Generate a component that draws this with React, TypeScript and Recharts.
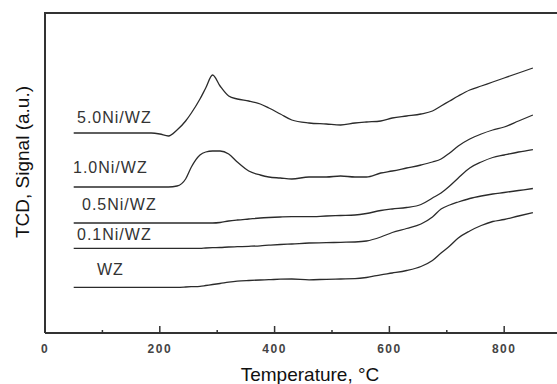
import React from 'react';
import { LineChart, Line, XAxis, YAxis } from 'recharts';

// Temperature grid (°C) shared by all TPR profiles
const temps = [
  50, 100, 150, 185, 200, 215, 230, 245, 255, 270, 280, 292, 305, 320, 335, 355, 375, 390, 410, 430,
  460, 490, 515, 540, 560, 585, 605, 630, 655, 675, 690, 705, 720, 740, 760, 780, 800, 825, 850,
];

// TCD signal, arbitrary units (each profile offset vertically)
const ni50 = [
  200, 200, 200, 200, 199, 197, 203, 212, 220, 234, 245, 258, 247, 237, 234, 232, 229, 225, 219, 213,
  210, 209, 208, 210, 211, 212, 215, 217, 219, 222, 227, 232, 237, 243, 247, 251, 255, 260, 265,
];
const ni10 = [
  146, 146, 146, 146, 146, 146, 147, 154, 166, 178, 181, 182, 182, 179, 171, 162, 158, 156, 155, 154,
  156, 156, 157, 156, 156, 160, 162, 165, 168, 171, 174, 180, 187, 194, 199, 203, 206, 212, 218,
];
const ni05 = [
  110, 110, 110, 110, 110, 110, 110, 110, 110, 110, 110, 110, 110.5, 112, 113, 114, 115, 115.5, 116, 116.3,
  116.3, 117, 117.5, 118, 119.5, 122.5, 124, 125.5, 128.5, 135, 140, 147, 155, 165, 171, 175.5, 178, 181, 183.5,
];
const ni01 = [
  84.7, 84.7, 84.7, 84.7, 84.7, 84.7, 84.7, 84.7, 84.7, 84.7, 85, 85.3, 85.5, 86, 86.3, 86.7, 87.2, 87.8, 88.5, 89,
  90, 90.3, 90.7, 91, 92, 96, 100.5, 104.5, 109, 116, 124, 128, 131, 134.5, 137, 139, 140.5, 142.5, 144.5,
];
const wz = [
  45.7, 45.7, 45.7, 45.7, 45.7, 45.7, 45.7, 46, 46.3, 46.7, 47.5, 48.5, 49.5, 50.8, 51.8, 52.5, 53, 53.3, 53.8, 54,
  53.2, 53.7, 54, 54.3, 55.5, 58.2, 60, 62.5, 66.5, 72.5, 80, 87, 95, 102, 107.5, 111.5, 113.5, 117, 120.3,
];

const seriesNames = ['5.0Ni/WZ', '1.0Ni/WZ', '0.5Ni/WZ', '0.1Ni/WZ', 'WZ'];
const seriesKeys = ['ni50', 'ni10', 'ni05', 'ni01', 'wz'];

const xTicks = [0, 100, 200, 300, 400, 500, 600, 700, 800];

const data = temps.map((t, i) => ({
  t,
  ni50: ni50[i],
  ni10: ni10[i],
  ni05: ni05[i],
  ni01: ni01[i],
  wz: wz[i],
}));

const frame = '#333';
const ink = '#2b2b2b';

// Label positions next to each profile's flat start
const labelPos = [
  { x: 77, y: 123 },
  { x: 73, y: 173 },
  { x: 82, y: 210 },
  { x: 77, y: 240 },
  { x: 97, y: 275 },
];

// Inward-pointing tick marks, labels only on the 200s
const TempTick = (props: any) => {
  const { x, y, payload } = props;
  const major = payload.value % 200 === 0;
  return (
    <g>
      <line x1={x} x2={x} y1={y} y2={y - (major ? 7 : 3)} stroke={frame} strokeWidth={1.5} />
      {major && (
        <text
          x={x}
          y={y + 20}
          textAnchor="middle"
          fontSize={12}
          fontWeight={600}
          letterSpacing={1.5}
          fill="#444"
          fontFamily="Liberation Sans, Arial, sans-serif"
        >
          {payload.value}
        </text>
      )}
    </g>
  );
};

export default function App() {
  return (
    <div style={{ position: 'absolute', left: 0, top: 0, width: 557, height: 384, background: '#fff' }}>
      <LineChart
        width={557}
        height={384}
        data={data}
        margin={{ top: 13, right: 0, left: 0, bottom: 11 }}
      >
        <XAxis
          dataKey="t"
          type="number"
          domain={[0, 892]}
          ticks={xTicks}
          interval={0}
          tick={<TempTick />}
          tickLine={false}
          tickSize={0}
          tickMargin={0}
          height={40}
          axisLine={{ stroke: frame, strokeWidth: 2 }}
        />
        <YAxis
          type="number"
          domain={[0, 320]}
          width={45}
          tick={false}
          tickLine={false}
          axisLine={{ stroke: frame, strokeWidth: 2 }}
        />
        {seriesKeys.map((k) => (
          <Line
            key={k}
            dataKey={k}
            type="monotone"
            stroke={ink}
            strokeWidth={1.3}
            dot={false}
            isAnimationActive={false}
          />
        ))}
      </LineChart>
      {/* top edge of the plot frame */}
      <div style={{ position: 'absolute', left: 44, top: 12, width: 513, height: 2, background: frame }} />
      <svg
        width={557}
        height={384}
        style={{ position: 'absolute', left: 0, top: 0, pointerEvents: 'none' }}
        fontFamily="Liberation Sans, Arial, sans-serif"
      >
        {seriesNames.map((name, i) => (
          <text key={name} x={labelPos[i].x} y={labelPos[i].y} fontSize={16} letterSpacing={1} fill="#333">
            {name}
          </text>
        ))}
        <text x={310} y={381} textAnchor="middle" fontSize={19} fill="#111">
          Temperature, °C
        </text>
        <text x={29} y={162} textAnchor="middle" fontSize={19} fill="#111" transform="rotate(-90, 29, 162)">
          TCD, Signal (a.u.)
        </text>
      </svg>
    </div>
  );
}
